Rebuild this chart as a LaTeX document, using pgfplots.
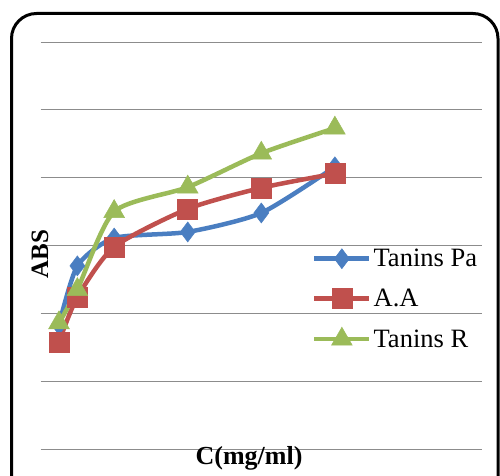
\documentclass[border=0pt]{standalone}
\usepackage{pgfplots}
\pgfplotsset{compat=1.18}
\usepackage{fontspec}
\setmainfont{Liberation Serif}
\definecolor{xblue}{RGB}{74,126,193}
\definecolor{xred}{RGB}{192,80,77}
\definecolor{xgreen}{RGB}{155,187,89}
\begin{document}
\begin{tikzpicture}[x=1pt,y=1pt]
\useasboundingbox (0,0) rectangle (500,475);
\clip (0,0) rectangle (500,475);
\fill[white] (0,0) rectangle (500,475);
\begin{axis}[
  at={(40.6pt,26pt)}, anchor=south west,
  scale only axis, width=441.4pt, height=407pt,
  xmin=0, xmax=3, ymin=0, ymax=6,
  axis line style={draw=none},
  xtick=\empty, ytick={0,1,...,6}, yticklabels={},
  major tick length=0pt,
  ymajorgrids, grid style={black!45, line width=1pt},
  clip=false,
  legend style={at={(0.6147,0.3686)}, anchor=west, draw=none, fill=none,
    font=\fontsize{26.5}{31}\selectfont, row sep=17pt, inner sep=0pt,
    cells={anchor=west}},
  legend image code/.code={\draw[mark repeat=2,mark phase=2] plot coordinates {(0pt,0pt)(27.5pt,0pt)(55pt,0pt)};},
]
\addplot[xblue, line width=4.5pt, smooth, tension=0.4, mark=diamond*, mark size=10pt,
  mark options={fill=xblue, draw=xblue, line width=0.5pt, solid}]
  coordinates {(0.125,1.83) (0.25,2.70) (0.5,3.11) (1,3.20) (1.5,3.48) (2,4.16)};
\addlegendentry{Tanins Pa}
\addplot[xred, line width=4.5pt, smooth, tension=0.4, mark=square*, mark size=10pt,
  mark options={fill=xred, draw=xred, line width=0.5pt, solid}]
  coordinates {(0.125,1.58) (0.25,2.24) (0.5,2.98) (1,3.54) (1.5,3.85) (2,4.06)};
\addlegendentry{A.A}
\addplot[xgreen, line width=4.5pt, smooth, tension=0.4, mark=triangle*, mark size=12pt,
  mark options={fill=xgreen, draw=xgreen, line width=0.5pt, solid}]
  coordinates {(0.125,1.86) (0.25,2.35) (0.5,3.50) (1,3.86) (1.5,4.36) (2,4.73)};
\addlegendentry{Tanins R}
\end{axis}
\node[rotate=90, font=\bfseries\fontsize{25}{30}\selectfont] at (40,221) {ABS};
\node[font=\bfseries\fontsize{26}{30}\selectfont] at (249,17) {C(mg/ml)};
\draw[line width=3pt, rounded corners=25pt] (11.5,-60) rectangle (498,461.5);
\end{tikzpicture}
\end{document}
